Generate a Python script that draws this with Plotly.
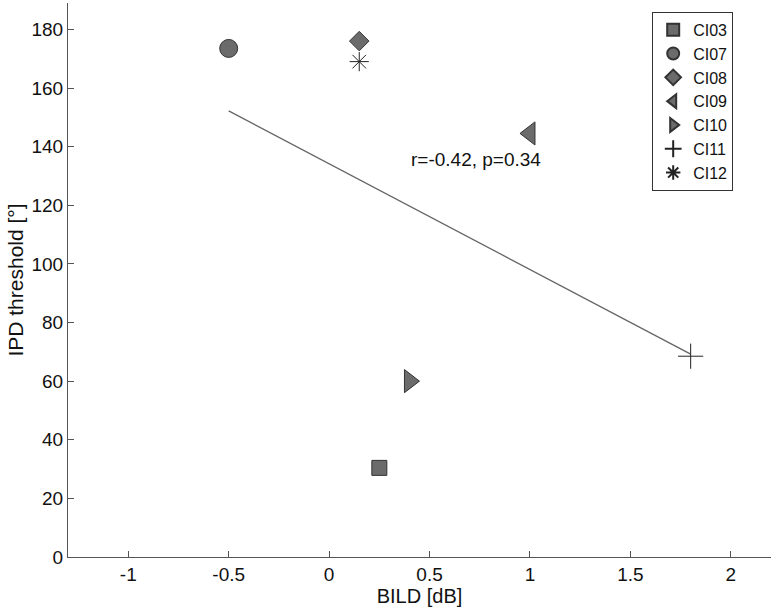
import numpy as np
import plotly.graph_objects as go

# subjects and their values
subjects = ["CI03", "CI07", "CI08", "CI09", "CI10", "CI11", "CI12"]
bild_db = [0.25, -0.5, 0.15, 1.0, 0.4, 1.8, 0.15]
ipd_thr = [30.4, 173.5, 176.0, 144.5, 60.0, 68.5, 169.0]

symbols = ["square", "circle", "diamond", "triangle-left",
           "triangle-right", "cross-thin-open", "asterisk-open"]
sizes = [15, 18, 15, 20, 20, 18, 16]

fill = "#6b6b6b"
edge = "#333333"

fig = go.Figure()

# least-squares fit line across the data range
slope, icpt = np.polyfit(bild_db, ipd_thr, 1)
xfit = np.array([min(bild_db), max(bild_db)])
fig.add_trace(go.Scatter(
    x=xfit, y=slope * xfit + icpt, mode="lines",
    line=dict(color="#666666", width=1.3),
    showlegend=False, hoverinfo="skip"
))

for name, x, y, sym, sz in zip(subjects, bild_db, ipd_thr, symbols, sizes):
    open_sym = sym.endswith("-open")
    fig.add_trace(go.Scatter(
        x=[x], y=[y], mode="markers", name=name,
        marker=dict(
            symbol=sym, size=sz,
            color="#222222" if open_sym else fill,
            line=dict(color="#222222" if open_sym else edge, width=1)
        )
    ))

fig.add_annotation(
    x=0.73, y=135.5, text="r=-0.42, p=0.34", showarrow=False,
    font=dict(size=19, color="#111111")
)

font_family = "Liberation Sans, Arial, sans-serif"
axis_font = dict(family=font_family, size=19, color="#111111")

fig.update_layout(
    width=773, height=611,
    margin=dict(l=68, r=2, t=3, b=54),
    plot_bgcolor="white", paper_bgcolor="white",
    font=dict(family=font_family, color="#111111"),
    showlegend=True,
    legend=dict(
        x=0.831, y=0.984, xanchor="left", yanchor="top",
        bgcolor="white", bordercolor="#333333", borderwidth=1,
        font=dict(size=16, color="#111111"),
        itemsizing="constant", tracegroupgap=0,
        itemwidth=30
    ),
    xaxis=dict(
        range=[-1.3, 2.2], tickvals=[-1, -0.5, 0, 0.5, 1, 1.5, 2],
        ticktext=["-1", "-0.5", "0", "0.5", "1", "1.5", "2"],
        showgrid=False, zeroline=False, showline=True, linecolor="#555555",
        linewidth=1, ticks="inside", ticklen=6, tickcolor="#555555",
        tickfont=axis_font,
        title=dict(text="BILD [dB]", font=dict(size=20, color="#111111"), standoff=4)
    ),
    yaxis=dict(
        range=[0, 189], tickvals=list(range(0, 181, 20)),
        showgrid=False, zeroline=False, showline=True, linecolor="#555555",
        linewidth=1, ticks="inside", ticklen=6, tickcolor="#555555",
        tickfont=axis_font,
        title=dict(text="IPD threshold [°]", font=dict(size=21, color="#111111"), standoff=2)
    ),
)

fig.write_html("out.html", config={"displayModeBar": False},
               post_script="document.body.style.margin='0';")
